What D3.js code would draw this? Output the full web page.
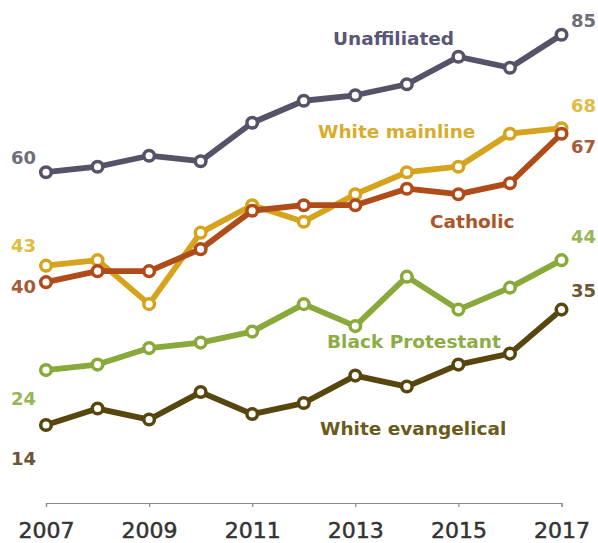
<!DOCTYPE html>
<html>
<head>
<meta charset="utf-8">
<script src="https://cdn.jsdelivr.net/npm/d3@7"></script>
<style>
  html, body { margin: 0; padding: 0; background: #fff; }
  svg { display: block; }
</style>
</head>
<body>
<div id="chart"></div>
<script>
'use strict';

// data
var years = [2007, 2008, 2009, 2010, 2011, 2012, 2013, 2014, 2015, 2016, 2017];
var tickYears = [2007, 2009, 2011, 2013, 2015, 2017];

var seriesNames = ['White mainline', 'Catholic', 'Unaffiliated', 'Black Protestant', 'White evangelical'];

var whiteMainline    = [43, 44, 36, 49, 54, 51, 56, 60, 61, 67, 68];
var catholic         = [40, 42, 42, 46, 53, 54, 54, 57, 56, 58, 67];
var unaffiliated     = [60, 61, 63, 62, 69, 73, 74, 76, 81, 79, 85];
var blackProtestant  = [24, 25, 28, 29, 31, 36, 32, 41, 35, 39, 44];
var whiteEvangelical = [14, 17, 15, 20, 16, 18, 23, 21, 25, 27, 35];

var seriesValues = [whiteMainline, catholic, unaffiliated, blackProtestant, whiteEvangelical];

// styling / placement
var lineColors  = ['#d6a41c', '#b04c1a', '#575268', '#89a93a', '#57470f'];
var nameColors  = ['#d8ac2c', '#a9562a', '#5a5776', '#8dac45', '#6a5a1c'];
var valueColors = ['#e0bb42', '#a55a38', '#6e6d78', '#98b654', '#6b5632'];

// series name label: start x, baseline
var namePos = [[318, 138], [430, 228], [333, 45], [327, 348], [320, 435]];
// first / last value label offsets from the point (dy)
var firstDy = [-14, 11, -8, 35, 40];
var lastDy  = [-16, 19, -8, -17, -13];

var width = 598, height = 543;

var svg = d3.select('#chart').append('svg')
  .attr('width', width)
  .attr('height', height);

var x = d3.scaleLinear()
  .domain([2007, 2017])
  .range([46, 561.5]);

var y = d3.scaleLinear()
  .domain([0, 85])
  .range([502, 34.8]);

// axis
var axis = d3.axisBottom(x)
  .tickValues(tickYears)
  .tickFormat(d3.format('d'))
  .tickSizeInner(4)
  .tickSizeOuter(4)
  .tickPadding(15);

var gx = svg.append('g')
  .attr('transform', 'translate(0,503)')
  .call(axis);

gx.select('.domain').attr('stroke', '#8a8a8a').attr('stroke-width', 1.2);
gx.selectAll('.tick line').attr('stroke', '#8a8a8a').attr('stroke-width', 1.2);
gx.selectAll('.tick text')
  .attr('fill', '#333')
  .attr('stroke', '#333')
  .attr('stroke-width', 0.5)
  .style('font-family', 'DejaVu Sans, sans-serif')
  .style('font-size', '22px');

var line = d3.line()
  .x(function(d, i){ return x(years[i]); })
  .y(function(d){ return y(d); });

var series = seriesNames.map(function(name, k){
  return { name: name, values: seriesValues[k], k: k };
});

var groups = svg.selectAll('g.series')
  .data(series)
  .enter().append('g')
    .attr('class', 'series');

groups.append('path')
  .attr('d', function(d){ return line(d.values); })
  .attr('fill', 'none')
  .attr('stroke', function(d){ return lineColors[d.k]; })
  .attr('stroke-width', 5.8)
  .attr('stroke-linejoin', 'round');

groups.selectAll('circle')
  .data(function(d){
    return d.values.map(function(v, i){ return { v: v, i: i, k: d.k }; });
  })
  .enter().append('circle')
    .attr('cx', function(d){ return x(years[d.i]); })
    .attr('cy', function(d){ return y(d.v); })
    .attr('r', 5.3)
    .attr('fill', '#fff')
    .attr('stroke', function(d){ return lineColors[d.k]; })
    .attr('stroke-width', 3.5);

// series names
groups.append('text')
  .attr('x', function(d){ return namePos[d.k][0]; })
  .attr('y', function(d){ return namePos[d.k][1]; })
  .attr('fill', function(d){ return nameColors[d.k]; })
  .style('font-family', 'DejaVu Sans, sans-serif')
  .style('font-weight', 'bold')
  .style('font-size', '18.5px')
  .text(function(d){ return d.name; });

// first and last values
groups.append('text')
  .attr('x', 36)
  .attr('y', function(d){ return y(d.values[0]) + firstDy[d.k]; })
  .attr('text-anchor', 'end')
  .attr('fill', function(d){ return valueColors[d.k]; })
  .style('font-family', 'DejaVu Sans, sans-serif')
  .style('font-weight', 'bold')
  .style('font-size', '18px')
  .text(function(d){ return d.values[0]; });

groups.append('text')
  .attr('x', 571)
  .attr('y', function(d){ return y(d.values[d.values.length - 1]) + lastDy[d.k]; })
  .attr('fill', function(d){ return valueColors[d.k]; })
  .style('font-family', 'DejaVu Sans, sans-serif')
  .style('font-weight', 'bold')
  .style('font-size', '18px')
  .text(function(d){ return d.values[d.values.length - 1]; });
</script>
</body>
</html>
